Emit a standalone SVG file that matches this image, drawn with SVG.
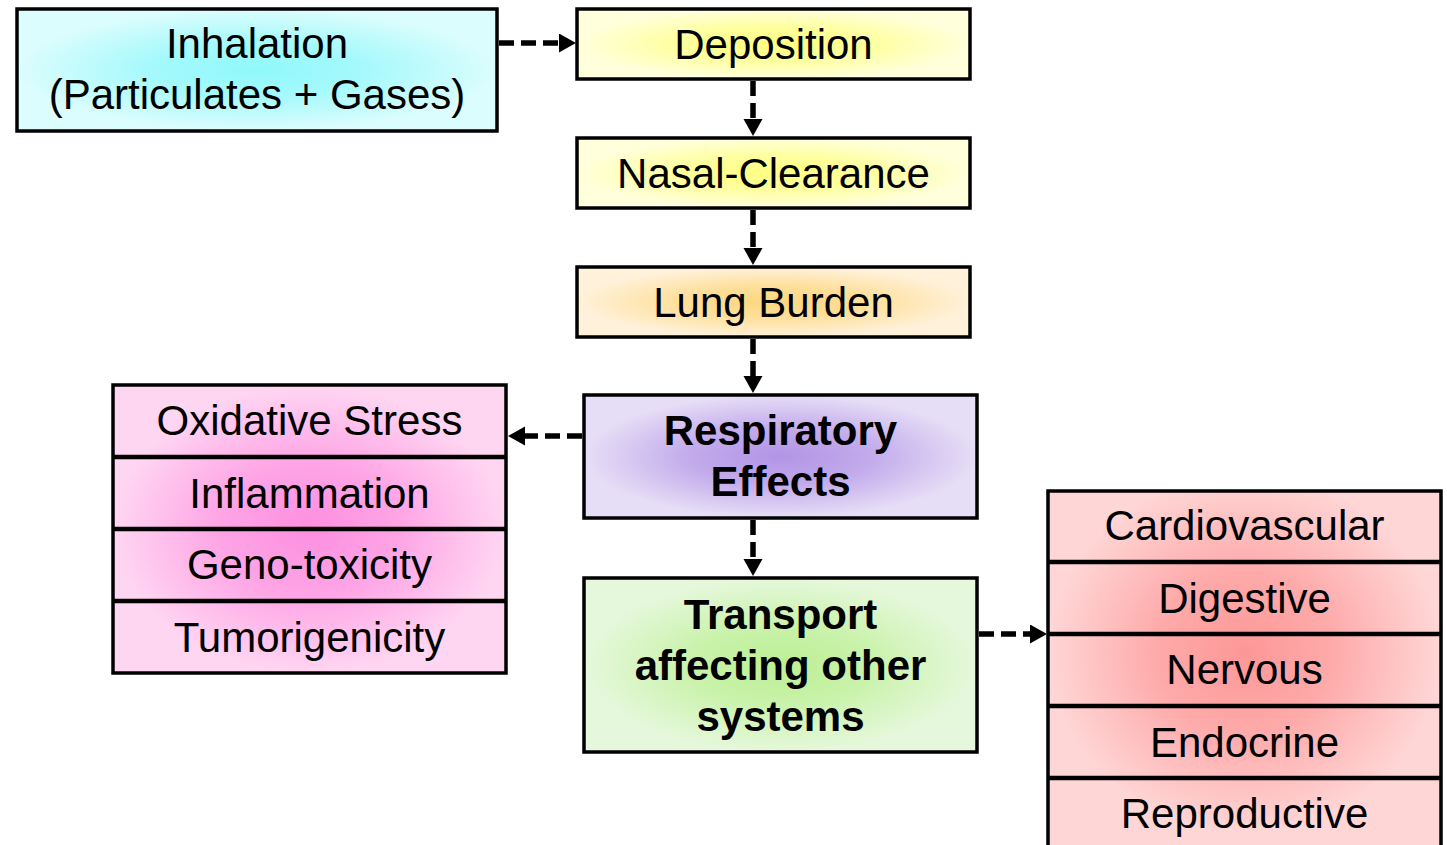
<svg xmlns="http://www.w3.org/2000/svg" width="1447" height="845" viewBox="0 0 1447 845">
<style>
.box{stroke:#000;stroke-width:3.5}
.sep{stroke:#000;stroke-width:4.5}
.t{font-family:"Liberation Sans",Arial,sans-serif;font-size:42px;fill:#000;text-anchor:middle}
.b{font-weight:bold}
.c{fill:none;stroke:#000;stroke-width:5.5;stroke-dasharray:15 7}
</style>
<defs>
<radialGradient id="gCyan" cx="0.5" cy="0.5" r="0.5"><stop offset="0" stop-color="#8ff8fb"/><stop offset="0.45" stop-color="#a6f9fc"/><stop offset="1" stop-color="#dcfdfd"/></radialGradient>
<radialGradient id="gYel" cx="0.5" cy="0.5" r="0.5"><stop offset="0" stop-color="#ffff80"/><stop offset="0.45" stop-color="#ffff9c"/><stop offset="1" stop-color="#ffffdc"/></radialGradient>
<radialGradient id="gOr" cx="0.5" cy="0.5" r="0.5"><stop offset="0" stop-color="#fdd77f"/><stop offset="0.45" stop-color="#fedf9a"/><stop offset="1" stop-color="#fff1da"/></radialGradient>
<radialGradient id="gPur" cx="0.5" cy="0.5" r="0.5"><stop offset="0" stop-color="#b294e6"/><stop offset="0.45" stop-color="#c2aaeb"/><stop offset="1" stop-color="#e6def6"/></radialGradient>
<radialGradient id="gGrn" cx="0.5" cy="0.5" r="0.5"><stop offset="0" stop-color="#bdef95"/><stop offset="0.45" stop-color="#c9f2aa"/><stop offset="1" stop-color="#e6f8dc"/></radialGradient>
<radialGradient id="gPink" cx="0.5" cy="0.5" r="0.5"><stop offset="0" stop-color="#fd8fe0"/><stop offset="0.45" stop-color="#fea4e5"/><stop offset="1" stop-color="#ffd6f2"/></radialGradient>
<radialGradient id="gRed" cx="0.5" cy="0.45" r="0.5"><stop offset="0" stop-color="#fd9797"/><stop offset="0.45" stop-color="#feaaaa"/><stop offset="1" stop-color="#ffd6d6"/></radialGradient>
<marker id="ah" markerUnits="userSpaceOnUse" markerWidth="18" markerHeight="20" refX="0" refY="9.5" orient="auto"><path d="M0,0 L17,9.5 L0,19 z" fill="#000"/></marker>
</defs>

<g id="connectors">
<line class="c" x1="499" y1="43" x2="559" y2="43" marker-end="url(#ah)"/>
<line class="c" x1="753" y1="81" x2="753" y2="119" marker-end="url(#ah)"/>
<line class="c" x1="753" y1="210" x2="753" y2="248" marker-end="url(#ah)"/>
<line class="c" x1="753" y1="339" x2="753" y2="376" marker-end="url(#ah)"/>
<line class="c" x1="753" y1="520" x2="753" y2="559" marker-end="url(#ah)"/>
<line class="c" x1="582" y1="436" x2="525" y2="436" marker-end="url(#ah)"/>
<line class="c" x1="979" y1="634" x2="1030" y2="634" marker-end="url(#ah)"/>
</g>

<g id="inhalation">
<rect class="box" x="17" y="9" width="480" height="122" fill="url(#gCyan)"/>
<text class="t" x="257" y="58">Inhalation</text>
<text class="t" x="257" y="109">(Particulates + Gases)</text>
</g>

<g id="deposition">
<rect class="box" x="577" y="9" width="393" height="70" fill="url(#gYel)"/>
<text class="t" x="773.5" y="59">Deposition</text>
</g>

<g id="nasal-clearance">
<rect class="box" x="577" y="138" width="393" height="70" fill="url(#gYel)"/>
<text class="t" x="773.5" y="188">Nasal-Clearance</text>
</g>

<g id="lung-burden">
<rect class="box" x="577" y="267" width="393" height="70" fill="url(#gOr)"/>
<text class="t" x="773.5" y="317">Lung Burden</text>
</g>

<g id="respiratory-effects">
<rect class="box" x="584" y="395" width="393" height="123" fill="url(#gPur)"/>
<text class="t b" x="780.5" y="445">Respiratory</text>
<text class="t b" x="780.5" y="496">Effects</text>
</g>

<g id="transport">
<rect class="box" x="584" y="578" width="393" height="174" fill="url(#gGrn)"/>
<text class="t b" x="780.5" y="629">Transport</text>
<text class="t b" x="780.5" y="680">affecting other</text>
<text class="t b" x="780.5" y="731">systems</text>
</g>

<g id="respiratory-outcomes">
<rect class="box" x="113" y="385" width="393" height="288" fill="url(#gPink)"/>
<line class="sep" x1="113" y1="457" x2="506" y2="457"/>
<line class="sep" x1="113" y1="529" x2="506" y2="529"/>
<line class="sep" x1="113" y1="601" x2="506" y2="601"/>
<text class="t" x="309.5" y="435">Oxidative Stress</text>
<text class="t" x="309.5" y="508">Inflammation</text>
<text class="t" x="309.5" y="579">Geno-toxicity</text>
<text class="t" x="309.5" y="652">Tumorigenicity</text>
</g>

<g id="other-systems">
<rect class="box" x="1048" y="491" width="393" height="360" fill="url(#gRed)"/>
<line class="sep" x1="1048" y1="562" x2="1441" y2="562"/>
<line class="sep" x1="1048" y1="634" x2="1441" y2="634"/>
<line class="sep" x1="1048" y1="706" x2="1441" y2="706"/>
<line class="sep" x1="1048" y1="778" x2="1441" y2="778"/>
<text class="t" x="1244.5" y="540">Cardiovascular</text>
<text class="t" x="1244.5" y="613">Digestive</text>
<text class="t" x="1244.5" y="684">Nervous</text>
<text class="t" x="1244.5" y="757">Endocrine</text>
<text class="t" x="1244.5" y="828">Reproductive</text>
</g>
</svg>
